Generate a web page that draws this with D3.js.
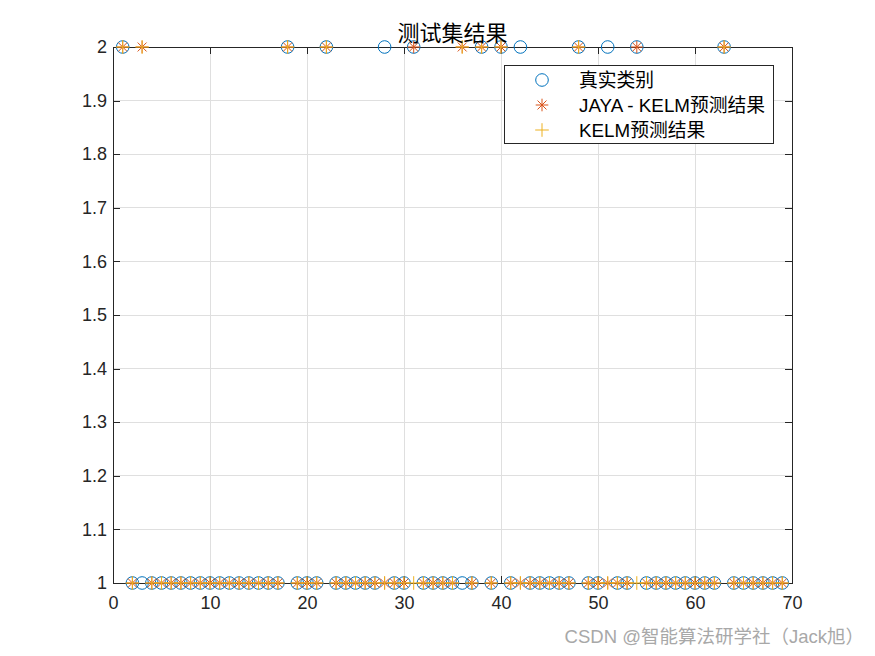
<!DOCTYPE html>
<html><head><meta charset="utf-8">
<script src="https://cdn.jsdelivr.net/npm/d3@7"></script>
<style>body{margin:0;background:#fff;}svg{display:block;}</style>
</head><body>
<svg id="c" width="875" height="656"></svg>
<script>
// ---- data ----
const sampleIdx = [1,2,3,4,5,6,7,8,9,10,11,12,13,14,15,16,17,18,19,20,21,22,23,24,25,26,27,28,29,30,31,32,33,34,35,36,37,38,39,40,41,42,43,44,45,46,47,48,49,50,51,52,53,54,55,56,57,58,59,60,61,62,63,64,65,66,67,68,69];
const trueClass = [2,1,1,1,1,1,1,1,1,1, 1,1,1,1,1,1,1,2,1,1, 1,2,1,1,1,1,1,2,1,1, 2,1,1,1,1,1,1,2,1,2, 1,2,1,1,1,1,1,2,1,1, 2,1,1,2,1,1,1,1,1,1, 1,1,2,1,1,1,1,1,1];
const jayaKelm  = [2,1,2,1,1,1,1,1,1,1, 1,1,1,1,1,1,1,2,1,1, 1,2,1,1,1,1,1,1,1,1, 2,1,1,1,1,2,1,2,1,2, 1,1,1,1,1,1,1,2,1,1, 1,1,1,2,1,1,1,1,1,1, 1,1,2,1,1,1,1,1,1];
const kelm      = [2,1,2,1,1,1,1,1,1,1, 1,1,1,1,1,1,1,2,1,1, 1,2,1,1,1,1,1,1,1,1, 1,1,1,1,1,2,1,2,1,2, 1,1,1,1,1,1,1,2,1,1, 1,1,1,1,1,1,1,1,1,1, 1,1,2,1,1,1,1,1,1];
const xTicks = [0,10,20,30,40,50,60,70];
const yTicks = [1,1.1,1.2,1.3,1.4,1.5,1.6,1.7,1.8,1.9,2];
const legendLabels = ["真实类别","JAYA - KELM预测结果","KELM预测结果"];
const titleText = "测试集结果";
const watermark = "CSDN @智能算法研学社（Jack旭）";

// ---- layout ----
const L = 113, R = 792, T = 47, B = 583;
const colors = ["#0072BD","#D95319","#EDB120"];
const axisColor = "#262626";
const svg = d3.select("#c");
const x = d3.scaleLinear().domain([0,70]).range([L,R]);
const y = d3.scaleLinear().domain([1,2]).range([B,T]);
const font = "'Liberation Sans', Arial, 'Noto Sans CJK SC', sans-serif";

// grid
const g = svg.append("g");
g.selectAll(".gx").data(xTicks).enter().append("line")
  .attr("x1", d=>x(d)).attr("x2", d=>x(d)).attr("y1",T).attr("y2",B)
  .attr("stroke","#dfdfdf").attr("stroke-width",1).attr("shape-rendering","crispEdges");
g.selectAll(".gy").data(yTicks).enter().append("line")
  .attr("y1", d=>y(d)).attr("y2", d=>y(d)).attr("x1",L).attr("x2",R)
  .attr("stroke","#dfdfdf").attr("stroke-width",1).attr("shape-rendering","crispEdges");

// axes
const tl = 7;
const ax = svg.append("g").attr("transform",`translate(0,${B})`)
  .call(d3.axisBottom(x).tickValues(xTicks).tickSizeInner(-tl).tickSizeOuter(0).tickPadding(13));
const axTop = svg.append("g").attr("transform",`translate(0,${T})`)
  .call(d3.axisTop(x).tickValues(xTicks).tickSizeInner(-tl).tickSizeOuter(0).tickFormat(""));
const ay = svg.append("g").attr("transform",`translate(${L},0)`)
  .call(d3.axisLeft(y).tickValues(yTicks).tickSizeInner(-tl).tickSizeOuter(0).tickPadding(6).tickFormat(d=>d3.format("")(+d.toFixed(1))));
const ayR = svg.append("g").attr("transform",`translate(${R},0)`)
  .call(d3.axisRight(y).tickValues(yTicks).tickSizeInner(-tl).tickSizeOuter(0).tickFormat(""));
[ax,axTop,ay,ayR].forEach(a=>{
  a.selectAll("path").attr("stroke",axisColor).attr("shape-rendering","crispEdges");
  a.selectAll("line").attr("stroke",axisColor).attr("shape-rendering","crispEdges");
  a.selectAll("text").attr("fill",axisColor).style("font-family",font).style("font-size","18px");
});
ax.selectAll("text").attr("dy","0.71em");

// markers
const r = 6.3;
const pts = sampleIdx.map((s,i)=>({s, t:trueClass[i], j:jayaKelm[i], k:kelm[i]}));
const mk = svg.append("g");
mk.selectAll(".circ").data(pts).enter().append("circle")
  .attr("cx", d=>x(d.s)).attr("cy", d=>y(d.t)).attr("r", r)
  .attr("fill","none").attr("stroke",colors[0]).attr("stroke-width",1);
const starPath = (cx,cy,s)=>{
  const a = s*0.7071;
  return `M${cx-s},${cy}L${cx+s},${cy}M${cx},${cy-s}L${cx},${cy+s}M${cx-a},${cy-a}L${cx+a},${cy+a}M${cx-a},${cy+a}L${cx+a},${cy-a}`;
};
const plusPath = (cx,cy,s)=>`M${cx-s},${cy}L${cx+s},${cy}M${cx},${cy-s}L${cx},${cy+s}`;
mk.selectAll(".star").data(pts).enter().append("path")
  .attr("d", d=>starPath(x(d.s), y(d.j), 6.3))
  .attr("fill","none").attr("stroke",colors[1]).attr("stroke-width",1);
mk.selectAll(".plus").data(pts).enter().append("path")
  .attr("d", d=>plusPath(x(d.s), y(d.k), 6.8))
  .attr("fill","none").attr("stroke",colors[2]).attr("stroke-width",1);

// title
svg.append("text").attr("x",(L+R)/2).attr("y",41).attr("text-anchor","middle")
  .attr("fill","#000").style("font-family","'Noto Sans CJK SC', sans-serif").style("font-size","22px")
  .text(titleText);

// legend
const lg = svg.append("g");
lg.append("rect").attr("x",504.5).attr("y",65.5).attr("width",269).attr("height",78)
  .attr("fill","#fff").attr("stroke",axisColor).attr("stroke-width",1);
const rowsY = [80,105,130];
const mx = 542;
lg.append("circle").attr("cx",mx).attr("cy",rowsY[0]).attr("r",r).attr("fill","none").attr("stroke",colors[0]);
lg.append("path").attr("d",starPath(mx,rowsY[1],6.3)).attr("fill","none").attr("stroke",colors[1]);
lg.append("path").attr("d",plusPath(mx,rowsY[2],6.8)).attr("fill","none").attr("stroke",colors[2]);
lg.selectAll(".lt").data(legendLabels).enter().append("text")
  .attr("x",579).attr("y",(d,i)=>rowsY[i]).attr("dy","0.35em")
  .attr("fill","#000").style("font-family",font).style("font-size","18.8px").text(d=>d);

// watermark
svg.append("text").attr("x",864).attr("y",643).attr("text-anchor","end")
  .attr("fill","#a8a8a8").style("font-family",font).style("font-size","18.5px").text(watermark);
</script>
</body></html>
